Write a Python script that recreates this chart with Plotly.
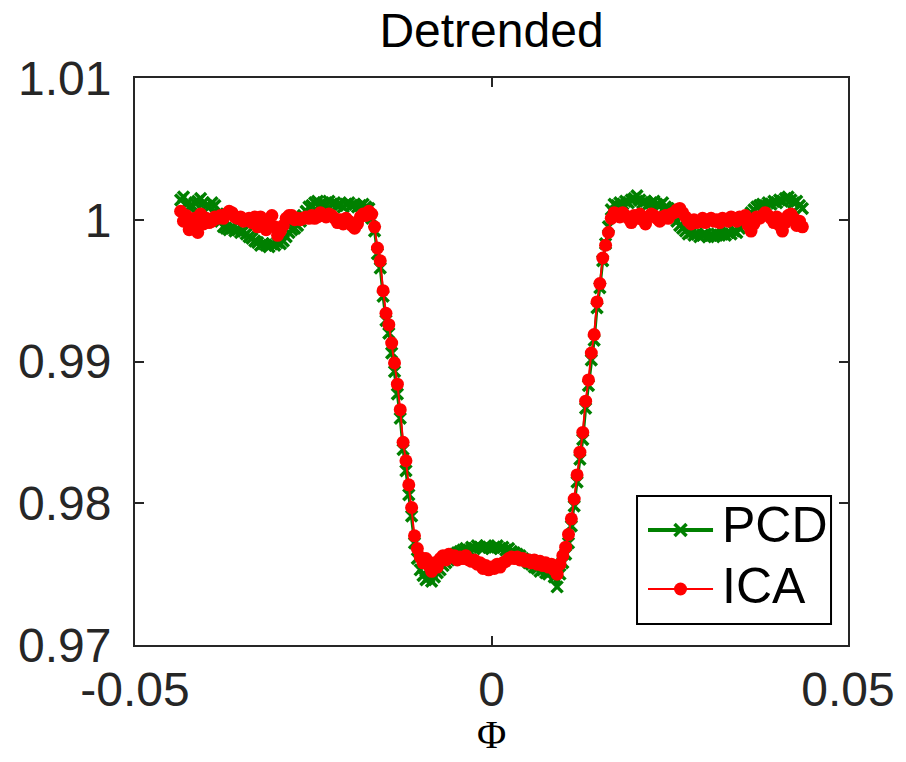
import plotly.graph_objects as go

# Orbital phase grid (Phi)
phase = [
    -0.0436, -0.0432, -0.0428, -0.0424, -0.0420, -0.0416, -0.0412, -0.0408, -0.0404, -0.0400,
    -0.0396, -0.0392, -0.0388, -0.0384, -0.0380, -0.0376, -0.0372, -0.0368, -0.0364, -0.0360,
    -0.0356, -0.0352, -0.0348, -0.0344, -0.0340, -0.0336, -0.0332, -0.0328, -0.0324, -0.0320,
    -0.0316, -0.0312, -0.0308, -0.0304, -0.0300, -0.0296, -0.0292, -0.0288, -0.0284, -0.0280,
    -0.0276, -0.0272, -0.0268, -0.0264, -0.0260, -0.0256, -0.0252, -0.0248, -0.0244, -0.0240,
    -0.0236, -0.0232, -0.0228, -0.0224, -0.0220, -0.0216, -0.0212, -0.0208, -0.0204, -0.0200,
    -0.0196, -0.0192, -0.0188, -0.0184, -0.0180, -0.0176, -0.0172, -0.0168, -0.0164, -0.0160,
    -0.0156, -0.0152, -0.0148, -0.0144, -0.0140, -0.0136, -0.0132, -0.0128, -0.0124, -0.0120,
    -0.0116, -0.0112, -0.0108, -0.0104, -0.0100, -0.0096, -0.0092, -0.0088, -0.0084, -0.0080,
    -0.0076, -0.0072, -0.0068, -0.0064, -0.0060, -0.0056, -0.0052, -0.0048, -0.0044, -0.0040,
    -0.0036, -0.0032, -0.0028, -0.0024, -0.0020, -0.0016, -0.0012, -0.0008, -0.0004, 0.0000,
    0.0004, 0.0008, 0.0012, 0.0016, 0.0020, 0.0024, 0.0028, 0.0032, 0.0036, 0.0040,
    0.0044, 0.0048, 0.0052, 0.0056, 0.0060, 0.0064, 0.0068, 0.0072, 0.0076, 0.0080,
    0.0084, 0.0088, 0.0092, 0.0096, 0.0100, 0.0104, 0.0108, 0.0112, 0.0116, 0.0120,
    0.0124, 0.0128, 0.0132, 0.0136, 0.0140, 0.0144, 0.0148, 0.0152, 0.0156, 0.0160,
    0.0164, 0.0168, 0.0172, 0.0176, 0.0180, 0.0184, 0.0188, 0.0192, 0.0196, 0.0200,
    0.0204, 0.0208, 0.0212, 0.0216, 0.0220, 0.0224, 0.0228, 0.0232, 0.0236, 0.0240,
    0.0244, 0.0248, 0.0252, 0.0256, 0.0260, 0.0264, 0.0268, 0.0272, 0.0276, 0.0280,
    0.0284, 0.0288, 0.0292, 0.0296, 0.0300, 0.0304, 0.0308, 0.0312, 0.0316, 0.0320,
    0.0324, 0.0328, 0.0332, 0.0336, 0.0340, 0.0344, 0.0348, 0.0352, 0.0356, 0.0360,
    0.0364, 0.0368, 0.0372, 0.0376, 0.0380, 0.0384, 0.0388, 0.0392, 0.0396, 0.0400,
    0.0404, 0.0408, 0.0412, 0.0416, 0.0420, 0.0424, 0.0428, 0.0432, 0.0436,
]

# PCD detrended flux
flux_pcd = [
    1.0014, 1.0016, 1.0011, 1.0009, 1.0010, 1.0012, 1.0013, 1.0015, 1.0012, 1.0010,
    1.0009, 1.0012, 1.0010, 1.0004, 0.9999, 0.9995, 0.9994, 0.9993, 0.9994, 0.9992,
    0.9993, 0.9991, 0.9992, 0.9990, 0.9988, 0.9987, 0.9985, 0.9984, 0.9982, 0.9983,
    0.9982, 0.9981, 0.9983, 0.9982, 0.9984, 0.9983, 0.9985, 0.9988, 0.9991, 0.9993,
    0.9994, 0.9996, 0.9999, 1.0003, 1.0006, 1.0009, 1.0010, 1.0012, 1.0013, 1.0011,
    1.0012, 1.0010, 1.0013, 1.0011, 1.0012, 1.0010, 1.0011, 1.0009, 1.0011, 1.0012,
    1.0010, 1.0011, 1.0009, 1.0010, 1.0011, 1.0009, 1.0008, 1.0001, 0.9992, 0.9976,
    0.9966, 0.9946, 0.9929, 0.9920, 0.9906, 0.9893, 0.9877, 0.9860, 0.9838, 0.9823,
    0.9806, 0.9791, 0.9772, 0.9761, 0.9753, 0.9749, 0.9746, 0.9748, 0.9745, 0.9748,
    0.9751, 0.9753, 0.9756, 0.9758, 0.9760, 0.9762, 0.9764, 0.9765, 0.9766, 0.9767,
    0.9768, 0.9767, 0.9769, 0.9768, 0.9770, 0.9769, 0.9768, 0.9770, 0.9769, 0.9768,
    0.9769, 0.9770, 0.9768, 0.9769, 0.9767, 0.9768, 0.9766, 0.9765, 0.9764, 0.9763,
    0.9761, 0.9760, 0.9758, 0.9757, 0.9755, 0.9754, 0.9752, 0.9753, 0.9751, 0.9750,
    0.9752, 0.9748, 0.9741, 0.9750, 0.9758, 0.9764, 0.9772, 0.9784, 0.9798, 0.9815,
    0.9831, 0.9845, 0.9867, 0.9883, 0.9901, 0.9915, 0.9938, 0.9952, 0.9971, 0.9983,
    0.9995, 1.0007, 1.0011, 1.0010, 1.0012, 1.0011, 1.0013, 1.0012, 1.0014, 1.0015,
    1.0017, 1.0014, 1.0012, 1.0013, 1.0011, 1.0012, 1.0013, 1.0011, 1.0010, 1.0012,
    1.0009, 1.0008, 1.0005, 1.0002, 0.9999, 0.9996, 0.9994, 0.9992, 0.9990, 0.9991,
    0.9989, 0.9990, 0.9988, 0.9989, 0.9990, 0.9988, 0.9989, 0.9988, 0.9990, 0.9989,
    0.9990, 0.9989, 0.9991, 0.9990, 0.9992, 0.9991, 0.9994, 0.9996, 0.9999, 1.0002,
    1.0005, 1.0007, 1.0009, 1.0010, 1.0011, 1.0010, 1.0012, 1.0011, 1.0013, 1.0012,
    1.0014, 1.0013, 1.0015, 1.0016, 1.0014, 1.0012, 1.0013, 1.0010, 1.0008,
]

# ICA detrended flux
flux_ica = [
    1.0006, 0.9999, 1.0003, 0.9993, 0.9996, 1.0001, 0.9991, 1.0004, 0.9997, 1.0001,
    0.9998, 0.9999, 1.0002, 1.0001, 1.0003, 1.0001, 1.0004, 1.0006, 1.0005, 1.0002,
    1.0001, 1.0002, 0.9999, 1.0000, 1.0001, 0.9998, 1.0002, 0.9995, 1.0002, 0.9996,
    0.9993, 0.9997, 1.0003, 0.9995, 0.9989, 0.9992, 0.9996, 1.0001, 1.0003, 1.0003,
    1.0000, 1.0001, 1.0000, 1.0001, 1.0002, 1.0001, 1.0003, 1.0001, 1.0002, 1.0005,
    1.0003, 1.0002, 1.0004, 1.0003, 1.0001, 0.9998, 1.0000, 0.9997, 1.0001, 0.9999,
    0.9996, 0.9994, 0.9997, 1.0002, 1.0004, 1.0003, 1.0006, 1.0004, 0.9995, 0.9980,
    0.9971, 0.9950, 0.9934, 0.9926, 0.9913, 0.9899, 0.9884, 0.9866, 0.9843, 0.9830,
    0.9813, 0.9797, 0.9777, 0.9768, 0.9762, 0.9758, 0.9761, 0.9756, 0.9752, 0.9758,
    0.9755, 0.9761, 0.9763, 0.9760, 0.9764, 0.9762, 0.9763, 0.9760, 0.9762, 0.9761,
    0.9763, 0.9760, 0.9759, 0.9760, 0.9757, 0.9758, 0.9754, 0.9756, 0.9753, 0.9755,
    0.9754, 0.9757, 0.9755, 0.9758, 0.9759, 0.9761, 0.9762, 0.9761, 0.9762, 0.9760,
    0.9761, 0.9759, 0.9760, 0.9758, 0.9760, 0.9757, 0.9759, 0.9756, 0.9758, 0.9755,
    0.9757, 0.9753, 0.9750, 0.9757, 0.9763, 0.9769, 0.9778, 0.9789, 0.9803, 0.9820,
    0.9836, 0.9850, 0.9872, 0.9887, 0.9906, 0.9919, 0.9942, 0.9955, 0.9973, 0.9982,
    0.9991, 1.0001, 1.0005, 1.0004, 1.0002, 1.0005, 1.0003, 1.0001, 0.9998, 1.0003,
    1.0001, 1.0004, 1.0000, 0.9997, 1.0002, 1.0004, 1.0003, 1.0001, 0.9999, 1.0002,
    1.0003, 1.0001, 1.0004, 1.0005, 1.0007, 1.0008, 1.0005, 1.0002, 0.9999, 0.9997,
    1.0000, 0.9998, 0.9999, 1.0001, 0.9998, 1.0000, 1.0001, 0.9999, 1.0000, 0.9998,
    1.0001, 1.0000, 0.9999, 1.0002, 1.0001, 0.9999, 1.0002, 1.0001, 1.0003, 0.9996,
    0.9992, 0.9997, 1.0002, 1.0001, 1.0003, 1.0005, 1.0003, 1.0001, 0.9998, 1.0002,
    0.9996, 0.9992, 0.9998, 1.0003, 1.0004, 1.0001, 0.9996, 0.9999, 0.9995,
]

series_names = ["PCD", "ICA"]
x_axis_label = "Φ"
x_tick_vals = [-0.05, 0, 0.05]
x_tick_text = ["-0.05", "0", "0.05"]
y_tick_vals = [0.97, 0.98, 0.99, 1.0, 1.01]
y_tick_text = ["0.97", "0.98", "0.99", "1", "1.01"]

GREEN = "#008000"
RED = "#ff0000"
AXC = "#262626"
FONT = "Liberation Sans, Arial, Helvetica, sans-serif"

fig = go.Figure()
fig.add_trace(go.Scatter(
    x=phase, y=flux_pcd, name=series_names[0], mode="lines+markers",
    line=dict(color=GREEN, width=3),
    marker=dict(symbol="x-thin", size=11, color=GREEN, line=dict(color=GREEN, width=3.5)),
    showlegend=False,
))
fig.add_trace(go.Scatter(
    x=phase, y=flux_ica, name=series_names[1], mode="lines+markers",
    line=dict(color=RED, width=2),
    marker=dict(symbol="circle", size=13, color=RED, line=dict(width=0)),
    showlegend=False,
))

# legend samples (overlay axes spanning the plot box 0..1)
fig.add_trace(go.Scatter(
    x=[0.7651], y=[0.2028], xaxis="x2", yaxis="y2", mode="markers",
    marker=dict(symbol="x-thin", size=12, color=GREEN, line=dict(color=GREEN, width=3.5)),
    showlegend=False, hoverinfo="skip",
))
fig.add_trace(go.Scatter(
    x=[0.7651], y=[0.0988], xaxis="x2", yaxis="y2", mode="markers",
    marker=dict(symbol="circle", size=13, color=RED),
    showlegend=False, hoverinfo="skip",
))

axis_common = dict(
    showline=True, linecolor=AXC, linewidth=2, mirror="ticks",
    ticks="inside", ticklen=9, tickwidth=2, tickcolor=AXC,
    showgrid=False, zeroline=False, automargin=False,
    tickfont=dict(family=FONT, size=48, color=AXC),
)

fig.update_layout(
    width=906, height=762,
    margin=dict(l=135, r=58, t=78, b=117, autoexpand=False),
    paper_bgcolor="white", plot_bgcolor="white",
    showlegend=False,
    title=dict(text="Detrended", x=0.5, xref="paper", xanchor="center",
               y=1 - 30 / 762, yref="container", yanchor="middle",
               font=dict(family=FONT, size=48, color="black")),
    xaxis=dict(range=[-0.05, 0.05], tickvals=x_tick_vals, ticktext=x_tick_text,
               ticklabelstandoff=1, **axis_common),
    yaxis=dict(range=[0.97, 1.01], tickvals=y_tick_vals, ticktext=y_tick_text,
               ticklabelstandoff=12, **axis_common),
    xaxis2=dict(overlaying="x", range=[0, 1], visible=False, domain=[0, 1]),
    yaxis2=dict(overlaying="y", range=[0, 1], visible=False),
    shapes=[
        dict(type="rect", xref="paper", yref="paper", x0=0.7041, x1=0.9762, y0=0.0370, y1=0.2628,
             line=dict(color="black", width=2), fillcolor="white", layer="below"),
        dict(type="line", xref="paper", yref="paper", x0=0.7195, x1=0.8107, y0=0.2028, y1=0.2028,
             line=dict(color=GREEN, width=4), layer="below"),
        dict(type="line", xref="paper", yref="paper", x0=0.7195, x1=0.8107, y0=0.0988, y1=0.0988,
             line=dict(color=RED, width=2), layer="below"),
    ],
    annotations=[
        dict(text="PCD", xref="paper", yref="paper", x=0.8200, y=0.2116, xanchor="left",
             yanchor="middle", showarrow=False, font=dict(family=FONT, size=50, color="black")),
        dict(text="ICA", xref="paper", yref="paper", x=0.8200, y=0.1040, xanchor="left",
             yanchor="middle", showarrow=False, font=dict(family=FONT, size=50, color="black")),
        dict(text=x_axis_label, xref="paper", yref="paper", x=0.5, y=-0.2010, xanchor="center",
             yanchor="bottom", showarrow=False,
             font=dict(family="Liberation Serif, DejaVu Serif, serif", size=40, color="black")),
    ],
)

fig.write_html("out.html")
